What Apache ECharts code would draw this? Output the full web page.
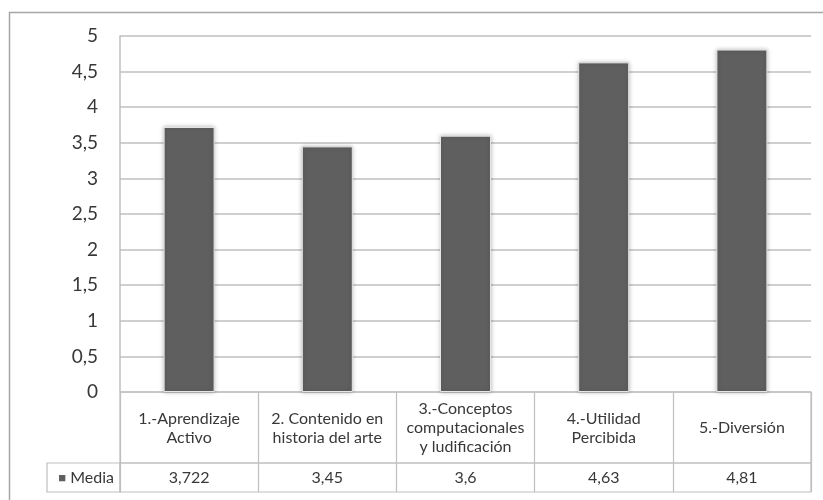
<!DOCTYPE html>
<html>
<head>
<meta charset="utf-8">
<script src="https://cdn.jsdelivr.net/npm/echarts@6/dist/echarts.min.js"></script>
<style>
  html, body { margin: 0; padding: 0; background: #fff; }
  #chart { width: 823px; height: 500px; }
</style>
</head>
<body>
<div id="chart"></div>
<script>
// data
const categories = [
  '1.-Aprendizaje\nActivo',
  '2. Contenido en\nhistoria del arte',
  '3.-Conceptos\ncomputacionales\ny ludificación',
  '4.-Utilidad\nPercibida',
  '5.-Diversión',
];
const seriesName = 'Media';
const mediaValues = [3.722, 3.45, 3.6, 4.63, 4.81];
const valueLabels = ['3,722', '3,45', '3,6', '4,63', '4,81'];

const chart = echarts.init(document.getElementById('chart'));

const font = 'Lato, "Noto Sans", sans-serif';
const lineColor = '#bfbfbf';
const textColor = '#383838';

const option = {
  backgroundColor: '#fff',
  animation: false,
  graphic: [
    {
      type: 'rect',
      shape: { x: 9.5, y: 12.5, width: 900, height: 600 },
      style: { fill: 'none', stroke: '#a6a6a6', lineWidth: 1.5 },
      silent: true,
    },
  ],
  grid: [
    // plot area
    { left: 120, right: 12, top: 36, height: 356, show: false },
    // category row of the data table
    { left: 120, right: 12, top: 392, height: 71, show: true, borderColor: lineColor, borderWidth: 1.2 },
    // value row of the data table
    { left: 120, right: 12, top: 463, height: 29, show: true, borderColor: lineColor, borderWidth: 1.2 },
    // legend key cell
    { left: 47, width: 73, top: 463, height: 29, show: true, borderColor: lineColor, borderWidth: 1.2 },
  ],
  xAxis: [
    {
      type: 'category',
      gridIndex: 0,
      data: categories,
      axisLine: { show: false },
      axisTick: { show: false },
      axisLabel: {
        interval: 0,
        margin: 36,
        verticalAlign: 'middle',
        color: textColor,
        fontFamily: font,
        fontSize: 16,
        lineHeight: 19,
      },
    },
    {
      type: 'category',
      gridIndex: 1,
      data: categories,
      axisLine: { show: false },
      axisTick: { show: false },
      splitLine: { show: true, interval: 0, lineStyle: { color: lineColor, width: 1.2 } },
      axisLabel: {
        interval: 0,
        margin: 14.5,
        verticalAlign: 'middle',
        color: textColor,
        fontFamily: font,
        fontSize: 16,
        formatter: (v, i) => valueLabels[i],
      },
    },
    {
      type: 'category',
      gridIndex: 2,
      data: categories,
      axisLine: { show: false },
      axisTick: { show: false },
      axisLabel: { show: false },
      splitLine: { show: true, interval: 0, lineStyle: { color: lineColor, width: 1.2 } },
    },
    {
      type: 'value',
      gridIndex: 3,
      show: false,
    },
  ],
  yAxis: [
    {
      type: 'value',
      gridIndex: 0,
      min: 0,
      max: 5,
      interval: 0.5,
      axisLine: { show: true, lineStyle: { color: lineColor, width: 1.5 } },
      axisTick: { show: false },
      splitLine: { show: true, lineStyle: { color: lineColor, width: 1.5 } },
      axisLabel: {
        margin: 22,
        color: textColor,
        fontFamily: font,
        fontSize: 19,
        formatter: (v) => String(v).replace('.', ','),
      },
    },
    {
      type: 'value',
      gridIndex: 1,
      show: false,
    },
    {
      type: 'category',
      gridIndex: 2,
      data: [seriesName],
      axisLine: { show: false },
      axisTick: { show: false },
      axisLabel: {
        margin: 6,
        fontFamily: font,
        fontSize: 16,
        color: textColor,
        formatter: (v) => '{sq|■} ' + v,
        rich: {
          sq: { color: '#5f5f5f', fontSize: 13, fontFamily: font },
        },
      },
    },
    {
      type: 'category',
      gridIndex: 3,
      show: false,
    },
  ],
  series: [
    {
      name: seriesName,
      type: 'bar',
      xAxisIndex: 0,
      yAxisIndex: 0,
      data: mediaValues,
      barWidth: 51,
      itemStyle: {
        color: '#5f5f5f',
        borderColor: '#e6e6e6',
        borderWidth: 1,
        shadowColor: 'rgba(0,0,0,0.25)',
        shadowBlur: 4,
      },
    },
  ],
};

chart.setOption(option);
</script>
</body>
</html>
